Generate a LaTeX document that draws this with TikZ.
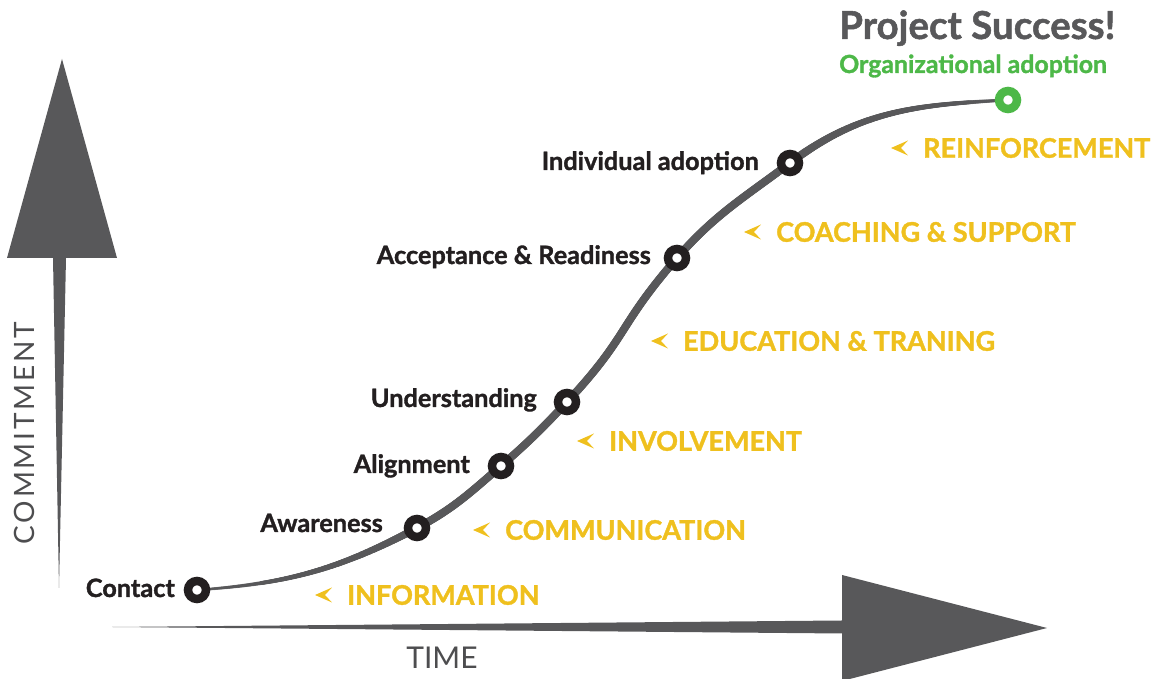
\documentclass[tikz,border=0pt]{standalone}
\usepackage{fontspec}
\setmainfont{Lato}[BoldFeatures={FakeBold=1.3}]
\usetikzlibrary{decorations.markings,backgrounds}

\definecolor{curvegray}{RGB}{88,88,90}
\definecolor{axisgray}{RGB}{77,77,79}
\definecolor{ink}{RGB}{35,31,32}
\definecolor{gold}{RGB}{239,192,30}
\definecolor{leafgreen}{RGB}{77,184,72}

\tikzset{
  ring/.style={circle, draw=ink, fill=white, line width=8.5pt, minimum size=18pt, inner sep=0pt},
  stagelbl/.style={text=ink, inner sep=0pt, anchor=base east, font=\bfseries\fontsize{25.3}{28}\selectfont},
  actlbl/.style={text=gold, inner sep=0pt, anchor=west, font=\bfseries\fontsize{27}{30}\selectfont},
  axislbl/.style={text=axisgray, inner sep=0pt, font=\fontsize{28}{32}\selectfont\addfontfeature{LetterSpace=10}},
  chev/.pic={\fill[gold] (0,0) -- (17,7.5) -- (10,0) -- (17,-7.5) -- cycle;},
  % stroke that grows from the start and thins again at the end
  taper/.style={postaction={decorate}, decoration={markings,
    mark=between positions 0 and 1 step 0.7pt with {
      \pgfmathsetmacro\pos{\pgfkeysvalueof{/pgf/decoration/mark info/distance from start}/\pgfdecoratedpathlength}
      \pgfmathsetmacro\rad{min(1.25+2.75*\pos/0.24, 4, 4-2.5*(\pos-0.78)/0.22)}
      \fill[curvegray] (0,0) circle (\rad pt);}}}
}

\begin{document}
\begin{tikzpicture}[x=1pt, y=1pt]
  \useasboundingbox (0,0) rectangle (1152,679);

  % axes
  \fill[curvegray] (53,421) -- (59,91) -- (66,421) -- (117,421) -- (62,620) -- (7,421) -- cycle;
  \fill[curvegray] (112,52) -- (842,58.5) -- (842,104) -- (1047,51) -- (842,-2) -- (842,45.5) -- cycle;
  \node[axislbl, rotate=90] (commit) at (24,246) {COMMITMENT};
  \node[axislbl, font=\fontsize{30}{34}\selectfont] (time) at (442,21) {TIME};

  % stages on the curve
  \node[ring] (contact) at (197,89) {};
  \node[ring] (aware) at (417,151) {};
  \node[ring] (align) at (501,213) {};
  \node[ring] (under) at (567,277) {};
  \node[ring] (accept) at (677,421) {};
  \node[ring] (indiv) at (790,516) {};
  \node[ring, draw=leafgreen] (org) at (1008,579) {};

  \begin{scope}[on background layer]
    \path[taper] (contact.center) to[out=4,in=208] (aware.center)
      to[out=28,in=221] (align.center)
      to[out=41,in=227] (under.center)
      to[out=47,in=229,looseness=1.3] (accept.center)
      to[out=49,in=217] (indiv.center)
      to[out=37,in=183] (org.center);
  \end{scope}

  \node[stagelbl] (contactlbl) at (175,82) {Contact};
  \node[stagelbl] (awarelbl) at (383,147) {Awareness};
  \node[stagelbl] (alignlbl) at (470,206) {Alignment};
  \node[stagelbl] (underlbl) at (537,272) {Understanding};
  \node[stagelbl] (acceptlbl) at (651,415) {Acceptance \& Readiness};
  \node[stagelbl] (indivlbl) at (759,509) {Individual adoption};

  \node[text=curvegray, anchor=base west, inner sep=0pt, font=\bfseries\fontsize{38.5}{42}\selectfont] (success) at (839,640) {Project Success!};
  \node[text=leafgreen, anchor=base west, inner sep=0pt, font=\bfseries\fontsize{24.9}{28}\selectfont] (orglbl) at (839,606) {Organizational adoption};

  % what drives each step
  \node[actlbl] (info) at (347,84) {INFORMATION};
  \node[actlbl] (comm) at (505,149) {COMMUNICATION};
  \node[actlbl] (invol) at (609,238) {INVOLVEMENT};
  \node[actlbl] (edu) at (683,338) {EDUCATION \& TRANING};
  \node[actlbl] (coach) at (776,447) {COACHING \& SUPPORT};
  \node[actlbl] (reinf) at (923,531) {REINFORCEMENT};
  \foreach \n in {info,comm,invol,edu,coach,reinf}
    \pic at ([xshift=-32pt]\n.west) {chev};
\end{tikzpicture}
\end{document}
